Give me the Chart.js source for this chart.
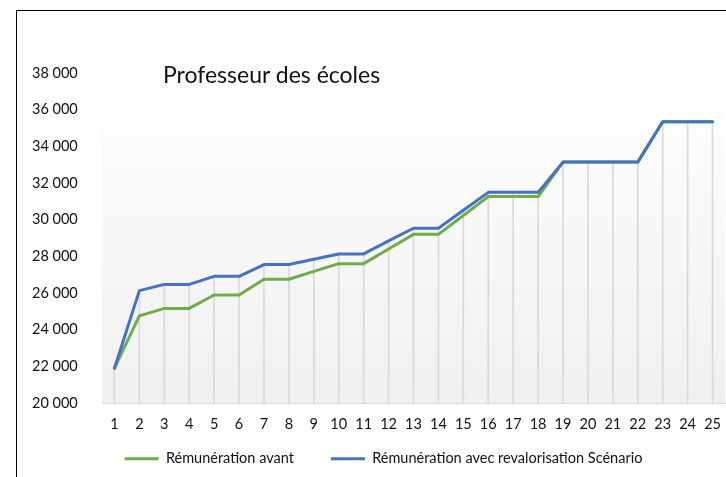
<!DOCTYPE html>
<html>
<head>
<meta charset="utf-8">
<script src="https://cdn.jsdelivr.net/npm/chart.js@4.4.1/dist/chart.umd.min.js"></script>
<style>
  html, body { margin: 0; padding: 0; background: #fff; }
  #wrap { position: relative; width: 726px; height: 477px; overflow: hidden; }
  #frame { position: absolute; left: 16px; top: 10px; width: 800px; height: 600px; border: 1px solid #000; box-sizing: border-box; }
  #title { position: absolute; left: 163px; top: 63px; font: 23px Lato, sans-serif; line-height: 23px; color: #111; white-space: nowrap; }
  canvas { position: absolute; left: 0; top: 0; }
</style>
</head>
<body>
<div id="wrap">
  <div id="frame"></div>
  <canvas id="chart" width="726" height="477"></canvas>
  <div id="title">Professeur des écoles</div>
</div>
<script>
// Data
const echelons = ['1','2','3','4','5','6','7','8','9','10','11','12','13','14','15','16','17','18','19','20','21','22','23','24','25'];
const remAvant = [21900, 24750, 25160, 25160, 25890, 25890, 26750, 26750, 27180, 27600, 27600, 28400, 29200, 29200, 30230, 31260, 31260, 31260, 33140, 33140, 33140, 33140, 35340, 35340, 35340];
const remRevalo = [21900, 26130, 26470, 26470, 26910, 26910, 27550, 27550, 27840, 28130, 28130, 28840, 29530, 29530, 30510, 31490, 31490, 31490, 33140, 33140, 33140, 33140, 35340, 35340, 35340];
const yMin = 20000;
const yMax = 38000;
const yStep = 2000;

const FONT = 'Lato, sans-serif';
const TEXT = '#111111';

function fmt(v) {
    return String(v).replace(/\B(?=(\d{3})+(?!\d))/g, ' ');
}

// plot area gradient fill (white -> light grey)
const plotBg = {
    id: 'plotBg',
    beforeDraw(chart) {
        const { ctx, chartArea: a } = chart;
        const g = ctx.createLinearGradient(0, a.top, 0, a.bottom);
        g.addColorStop(0, '#ffffff');
        g.addColorStop(1, '#f0f0f0');
        ctx.save();
        ctx.fillStyle = g;
        ctx.fillRect(a.left, a.top, a.right - a.left, a.bottom - a.top);
        ctx.restore();
    }
};

const ctx = document.getElementById('chart').getContext('2d');
new Chart(ctx, {
    type: 'line',
    data: {
        labels: echelons,
        datasets: [{
            label: 'Rémunération avant',
            data: remAvant,
            borderColor: '#70AD47',
            backgroundColor: '#70AD47',
            borderWidth: 3,
            pointRadius: 0,
            tension: 0,
            borderJoinStyle: 'round',
            borderCapStyle: 'round',
            order: 1
        }, {
            label: 'Rémunération avec revalorisation Scénario',
            data: remRevalo,
            borderColor: '#4472C4',
            backgroundColor: '#4472C4',
            borderWidth: 3,
            pointRadius: 0,
            tension: 0,
            borderJoinStyle: 'round',
            borderCapStyle: 'round',
            order: 0
        }, {
            // drop lines down to the axis
            type: 'bar',
            label: 'drop',
            data: remRevalo,
            backgroundColor: '#d9d9d9',
            barThickness: 1,
            order: 2
        }]
    },
    options: {
        responsive: false,
        animation: false,
        layout: { padding: { left: 42, right: 1, top: 73, bottom: 1 } },
        plugins: {
            tooltip: { enabled: false },
            title: { display: false },
            legend: {
                position: 'bottom',
                labels: {
                    font: { family: FONT, size: 14.5 },
                    color: TEXT,
                    boxWidth: 34,
                    boxHeight: 3,
                    padding: 37,
                    filter: item => item.text !== 'drop',
                    sort: (a, b) => a.datasetIndex - b.datasetIndex,
                    generateLabels: chart => Chart.defaults.plugins.legend.labels.generateLabels(chart)
                        .map(l => Object.assign(l, { lineWidth: 0 }))
                }
            }
        },
        scales: {
            x: {
                offset: true,
                grid: { display: false },
                border: { display: true, color: '#d9d9d9', width: 1 },
                // mirror so labels are not clipped to the thin axis box
                ticks: { font: { family: FONT, size: 14.5 }, color: TEXT, mirror: true, padding: -29.7, maxRotation: 0, autoSkip: false },
                afterFit: s => { s.height = 11.5; }
            },
            y: {
                min: yMin,
                max: yMax,
                grid: { display: false },
                border: { display: false },
                ticks: {
                    stepSize: yStep,
                    font: { family: FONT, size: 14.5 },
                    color: TEXT,
                    mirror: true,
                    crossAlign: 'near',
                    padding: -70,
                    callback: v => fmt(v)
                },
                afterFit: s => { s.width = 60; }
            }
        }
    },
    plugins: [plotBg]
});
</script>
</body>
</html>
